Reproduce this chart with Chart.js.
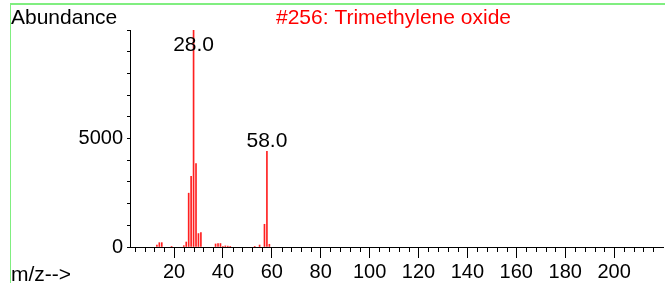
<!DOCTYPE html>
<html>
<head>
<meta charset="utf-8">
<script src="https://cdn.jsdelivr.net/npm/chart.js@4.4.0/dist/chart.umd.min.js"></script>
<style>
html, body { margin: 0; padding: 0; background: #fff; }
#wrap { position: relative; width: 665px; height: 283px; overflow: hidden; }
#frame { position: absolute; left: 10px; top: 3px; right: -5px; bottom: -5px; border-left: 1px solid #80ee80; border-top: 2px solid #80ee80; }
#chart { position: absolute; left: 0; top: 0; }
</style>
</head>
<body>
<div id="wrap">
  <div id="frame"></div>
  <canvas id="chart" width="665" height="283"></canvas>
</div>
<script>
// espectro de masas: m/z y abundancia
var mz        = [13, 14, 15, 19, 24, 25, 26, 27, 28, 29, 30, 31, 37, 38, 39, 40, 41, 42, 43, 53, 55, 57, 58, 59];
var abundance = [90, 200, 200, 30, 60, 230, 2480, 3260, 9999, 3850, 620, 660, 140, 160, 160, 30, 50, 40, 30, 30, 90, 1047, 4414, 125];

// picos etiquetados
var labeledPeaks = [28, 58];

// ejes
var xMajorTicks = [20, 40, 60, 80, 100, 120, 140, 160, 180, 200];
var xMinorTicks = [];
for (var t = 4; t <= 216; t += 4) xMinorTicks.push(t);
var yTicks = [0, 1000, 2000, 3000, 4000, 5000, 6000, 7000, 8000, 9000, 10000];
var yTickLabels = [0, 5000];

var titleText = '#256: Trimethylene oxide';
var font = 'Liberation Sans, Arial, sans-serif';

var points = mz.map(function (m, i) { return { x: m, y: abundance[i] }; });

// textos y marcas menores
var extras = {
    id: 'extras',
    afterDraw: function (chart) {
        var ctx = chart.ctx;
        var xs = chart.scales.x, ys = chart.scales.y;
        var area = chart.chartArea;
        ctx.save();

        // marcas menores del eje x
        ctx.strokeStyle = '#000';
        ctx.lineWidth = 1;
        ctx.beginPath();
        xMinorTicks.forEach(function (v) {
            if (xMajorTicks.indexOf(v) >= 0) return;
            var px = Math.round(xs.getPixelForValue(v)) + 0.5;
            ctx.moveTo(px, area.bottom);
            ctx.lineTo(px, area.bottom + 5);
        });
        ctx.stroke();

        ctx.font = '21px ' + font;
        ctx.textBaseline = 'alphabetic';
        ctx.fillStyle = '#000';
        ctx.textAlign = 'left';
        ctx.fillText('Abundance', 11, 24);
        ctx.fillText('m/z-->', 11, 281);

        ctx.fillStyle = '#ff0000';
        ctx.fillText(titleText, 276, 24);

        // etiquetas de los picos
        ctx.fillStyle = '#000';
        ctx.textAlign = 'center';
        labeledPeaks.forEach(function (m) {
            var i = mz.indexOf(m);
            var px = xs.getPixelForValue(m);
            var py = ys.getPixelForValue(abundance[i]);
            var base = Math.max(py - 4, area.top + 21);
            ctx.fillText(m.toFixed(1), px, base);
        });
        ctx.restore();
    }
};

var ctx = document.getElementById('chart').getContext('2d');
var myChart = new Chart(ctx, {
    type: 'bar',
    data: {
        datasets: [{
            data: points,
            backgroundColor: '#ff2020',
            borderWidth: 0,
            barThickness: 1
        }]
    },
    options: {
        responsive: false,
        animation: false,
        layout: { padding: { top: 30, right: 2, left: 0, bottom: 0 } },
        plugins: {
            legend: { display: false },
            tooltip: { enabled: false }
        },
        scales: {
            x: {
                type: 'linear',
                min: 2,
                max: 220,
                offset: false,
                afterBuildTicks: function (scale) {
                    scale.ticks = xMajorTicks.map(function (v) { return { value: v }; });
                },
                afterFit: function (scale) { scale.height = 36; },
                grid: { offset: false, drawOnChartArea: false, drawTicks: true, tickLength: 11, tickColor: '#000' },
                border: { display: true, color: '#000', width: 1 },
                ticks: {
                    color: '#000',
                    padding: 2,
                    maxRotation: 0,
                    autoSkip: false,
                    font: { family: font, size: 20 }
                }
            },
            y: {
                min: 0,
                max: 10000,
                afterBuildTicks: function (scale) {
                    scale.ticks = yTicks.map(function (v) { return { value: v }; });
                },
                afterFit: function (scale) { scale.width = 130; },
                grid: { drawOnChartArea: false, drawTicks: true, tickLength: 3, tickColor: '#000' },
                border: { display: true, color: '#000', width: 1 },
                ticks: {
                    color: '#000',
                    padding: 4,
                    autoSkip: false,
                    font: { family: font, size: 20 },
                    callback: function (v) { return yTickLabels.indexOf(v) >= 0 ? String(v) : ''; }
                }
            }
        }
    },
    plugins: [extras]
});
</script>
</body>
</html>
